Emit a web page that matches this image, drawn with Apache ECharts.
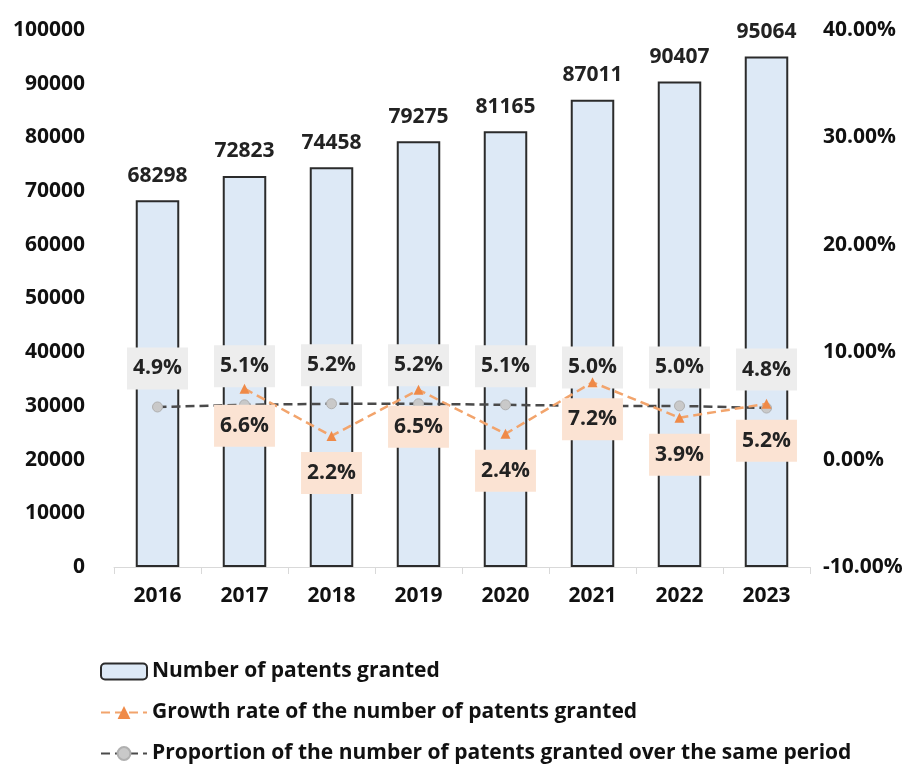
<!DOCTYPE html>
<html>
<head>
<meta charset="utf-8">
<script src="https://cdn.jsdelivr.net/npm/echarts@6/dist/echarts.min.js"></script>
<style>
  html, body { margin: 0; padding: 0; background: #fff; }
  #main { width: 911px; height: 765px; }
</style>
</head>
<body>
<div id="main"></div>
<script>
var years = ['2016', '2017', '2018', '2019', '2020', '2021', '2022', '2023'];
var patentsGranted = [68298, 72823, 74458, 79275, 81165, 87011, 90407, 95064];
var growthRate = [null, 6.6, 2.2, 6.5, 2.4, 7.2, 3.9, 5.2];
var proportion = [4.9, 5.1, 5.2, 5.2, 5.1, 5.0, 5.0, 4.8];
var seriesNames = [
    'Number of patents granted',
    'Growth rate of the number of patents granted',
    'Proportion of the number of patents granted over the same period'
];

var font = '"Open Sans", "Noto Sans", sans-serif';
var myChart = echarts.init(document.getElementById('main'));

//百分比标签
function pct(p) { return p.value.toFixed(1) + '%'; }

//每个图例单独一行
var legends = seriesNames.map(function (name, i) {
    return {
        left: 100,
        top: 661 + i * 41,
        padding: 0,
        itemWidth: 46,
        itemHeight: 16,
        textStyle: { fontSize: 21, fontWeight: 'bold', color: '#111', fontFamily: font },
        data: [name]
    };
});

myChart.setOption({
    animation: false,
    textStyle: { fontFamily: font },
    grid: { left: 114, right: 101, top: 30, bottom: 198 },
    legend: legends,
    xAxis: [{
        type: 'category',
        data: years,
        axisLine: { lineStyle: { color: '#d9d9d9', width: 1 } },
        axisTick: { show: true, length: 7, lineStyle: { color: '#d9d9d9' } },
        axisLabel: { fontSize: 21, fontWeight: 'bold', color: '#111', margin: 19 }
    }],
    yAxis: [{
        type: 'value',
        min: 0,
        max: 100000,
        interval: 10000,
        splitLine: { show: false },
        axisLine: { show: false },
        axisTick: { show: false },
        axisLabel: {
            fontSize: 21, fontWeight: 'bold', color: '#111', margin: 29,
            formatter: function (v) { return String(v); }
        }
    }, {
        type: 'value',
        min: -10,
        max: 40,
        interval: 10,
        splitLine: { show: false },
        axisLine: { show: false },
        axisTick: { show: false },
        axisLabel: {
            fontSize: 21, fontWeight: 'bold', color: '#111', margin: 13,
            formatter: function (v) { return v.toFixed(2) + '%'; }
        }
    }],
    series: [{
        name: seriesNames[0],
        type: 'bar',
        barWidth: '50%',
        data: patentsGranted,
        itemStyle: { color: '#dde9f6', borderColor: '#2b2b2b', borderWidth: 2 },
        label: {
            show: true,
            position: 'top',
            distance: 14,
            fontSize: 21,
            fontWeight: 'bold',
            color: '#222'
        }
    }, {
        name: seriesNames[2],
        type: 'line',
        yAxisIndex: 1,
        data: proportion,
        symbol: 'circle',
        symbolSize: 10,
        lineStyle: { color: '#4a4a4a', width: 2.5, type: [9, 5] },
        itemStyle: { color: '#c9c9c9', borderColor: '#b0b0b0', borderWidth: 1 },
        label: {
            show: true,
            position: 'top',
            distance: 12,
            fontSize: 21,
            lineHeight: 26,
            fontWeight: 'bold',
            color: '#222',
            backgroundColor: '#ededed',
            padding: [8, 6],
            formatter: pct
        },
        z: 3
    }, {
        name: seriesNames[1],
        type: 'line',
        yAxisIndex: 1,
        data: growthRate,
        symbol: 'triangle',
        symbolSize: 10,
        lineStyle: { color: '#f2a46c', width: 2.5, type: [9, 5] },
        itemStyle: { color: '#ef8a48' },
        label: {
            show: true,
            position: 'bottom',
            distance: 11,
            fontSize: 21,
            lineHeight: 26,
            fontWeight: 'bold',
            color: '#222',
            backgroundColor: '#fbe3d3',
            padding: [8, 6],
            formatter: pct
        },
        z: 4
    }]
});
</script>
</body>
</html>
